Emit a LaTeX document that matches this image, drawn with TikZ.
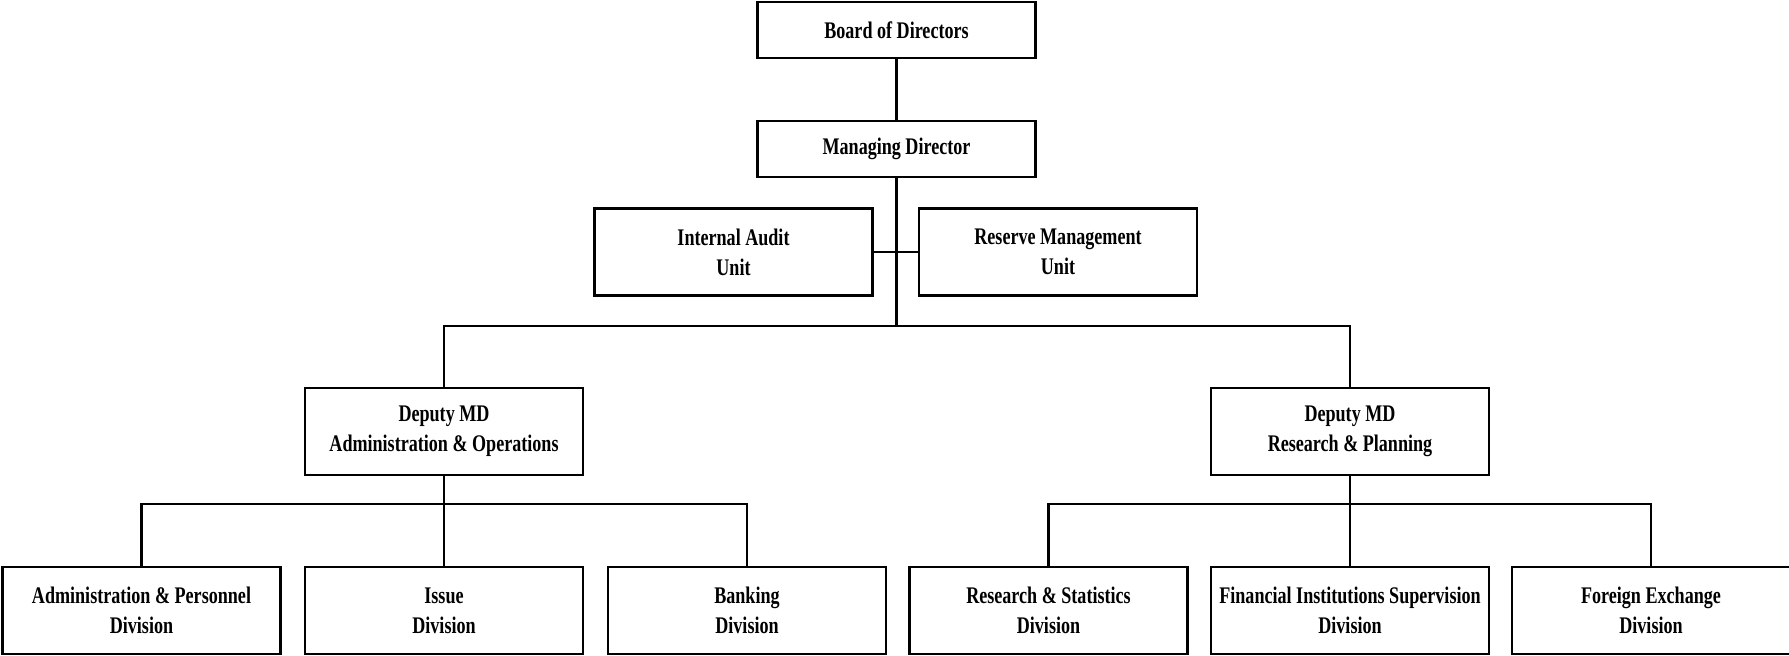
\documentclass[tikz,border=0pt]{standalone}
\usepackage{fontspec}
\setmainfont{Liberation Serif}[FakeStretch=0.76]
\begin{document}
\begin{tikzpicture}[x=0.5pt,y=-0.5pt,
  box/.style={draw,line width=1.1pt,minimum width=139pt,minimum height=43.5pt,inner sep=0pt,align=center,font=\fontsize{11.9}{14.85}\selectfont\bfseries},
  low/.style={box,minimum height=28pt},
  conn/.style={line width=1.1pt}]
\useasboundingbox (0,0) rectangle (1789,655);
\node[low] (board) at (896.5,30) {Board of Directors};
\node[low] (md) at (896.5,149) {Managing Director};
\node[box] (ia) at (733.5,252) {Internal Audit\\Unit};
\node[box] (rm) at (1058,252) {Reserve Management\\Unit};
\node[box] (da) at (444,431.5) {Deputy MD\\Administration \& Operations};
\node[box] (dr) at (1350,431.5) {Deputy MD\\Research \& Planning};
\node[box] (ap) at (141.5,610.5) {Administration \& Personnel\\Division};
\node[box] (is) at (444,610.5) {Issue\\Division};
\node[box] (bk) at (747,610.5) {Banking\\Division};
\node[box] (rs) at (1048.5,610.5) {Research \& Statistics\\Division};
\node[box] (fi) at (1350,610.5) {Financial Institutions Supervision\\Division};
\node[box] (fx) at (1651,610.5) {Foreign Exchange\\Division};
\coordinate (bus) at (896.5,326);
\coordinate (busa) at (444,504);
\coordinate (busr) at (1350,504);
\draw[conn] (board) -- (md);
\draw[conn] (md) -- (bus);
\draw[conn] (ia) -- (rm);
\draw[conn] (da.north) |- (bus) -| (dr.north);
\draw[conn] (da) -- (is);
\draw[conn] (ap.north) |- (busa) -| (bk.north);
\draw[conn] (dr) -- (fi);
\draw[conn] (rs.north) |- (busr) -| (fx.north);
\end{tikzpicture}
\end{document}
